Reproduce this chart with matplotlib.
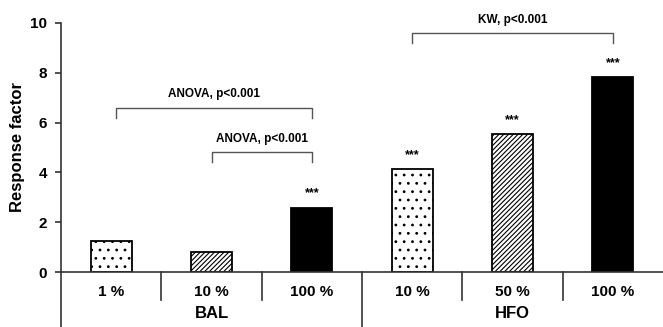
# %%

import matplotlib.pyplot as plt

plt.rcParams["font.family"] = ["Liberation Sans", "DejaVu Sans"]
plt.rcParams["font.weight"] = "bold"
plt.rcParams["hatch.linewidth"] = 0.8

# %%

# Dados
categorias = ["1 %", "10 %", "100 %", "10 %", "50 %", "100 %"]
grupos = ["BAL", "HFO"]
posicao_grupos = [1, 4]
valores = [1.24, 0.79, 2.59, 4.12, 5.53, 7.83]
significancia = ["", "", "***", "***", "***", "***"]

# Comparações: (inicio, fim, texto)
comparacoes = [
    (0.05, 2, "ANOVA, p<0.001"),
    (1, 2, "ANOVA, p<0.001"),
    (3, 5, "KW, p<0.001"),
]
altura_colchetes = [6.6, 4.8, 9.6]

# Estilo das barras
hachuras = ["..", "///////", None, "..", "///////", None]
cores = ["white", "white", "black", "white", "white", "black"]

# %%

fig = plt.figure(figsize=(6.63, 3.27), dpi=100)
ax = fig.add_axes([61 / 663, 55 / 327, 602 / 663, 249 / 327])

x = list(range(len(valores)))
for i in x:
    ax.bar(i, valores[i], width=0.41, color=cores[i], edgecolor="black",
           hatch=hachuras[i], linewidth=1.3, zorder=2)
    if significancia[i]:
        ax.text(i, valores[i] + 0.45, significancia[i], ha="center",
                va="baseline", fontsize=9, fontweight="bold")

# Colchetes das comparações
for (ini, fim, texto), h in zip(comparacoes, altura_colchetes):
    ax.plot([ini, ini, fim, fim], [h - 0.4, h, h, h - 0.4], color="#555555",
            linewidth=1.0, clip_on=False)
    ax.text((ini + fim) / 2, h + 0.42, texto, ha="center", va="baseline",
            fontsize=8.5, fontweight="bold")

ax.set_xlim(-0.5, 5.5)
ax.set_ylim(0, 10)
ax.set_yticks([0, 2, 4, 6, 8, 10])
ax.tick_params(axis="y", direction="out", length=4, width=1.2, pad=6,
               labelsize=11, color="#333333")
ax.tick_params(axis="x", bottom=False, labelbottom=False)

for lado in ["top", "right"]:
    ax.spines[lado].set_visible(False)
for lado in ["left", "bottom"]:
    ax.spines[lado].set_linewidth(1.2)
    ax.spines[lado].set_color("#333333")

# Rótulos e divisórias abaixo do eixo
trans = ax.get_xaxis_transform()
for i in x:
    ax.text(i, -0.08, categorias[i], transform=trans, ha="center",
            va="center", fontsize=11, fontweight="bold")
for g, pos in zip(grupos, posicao_grupos):
    ax.text(pos, -0.165, g, transform=trans, ha="center", va="center",
            fontsize=12, fontweight="bold")

for d in [0.5, 1.5, 3.5, 4.5]:
    ax.plot([d, d], [0, -0.1125], transform=trans, color="#333333",
            linewidth=1.2, clip_on=False)
for d in [-0.5, 2.5]:
    ax.plot([d, d], [0, -0.23], transform=trans, color="#333333",
            linewidth=1.2, clip_on=False)

ax.set_ylabel("Response factor", fontsize=12, fontweight="bold")
ax.yaxis.set_label_coords(-0.06, 0.5)

fig.savefig("out.png", dpi=100)
